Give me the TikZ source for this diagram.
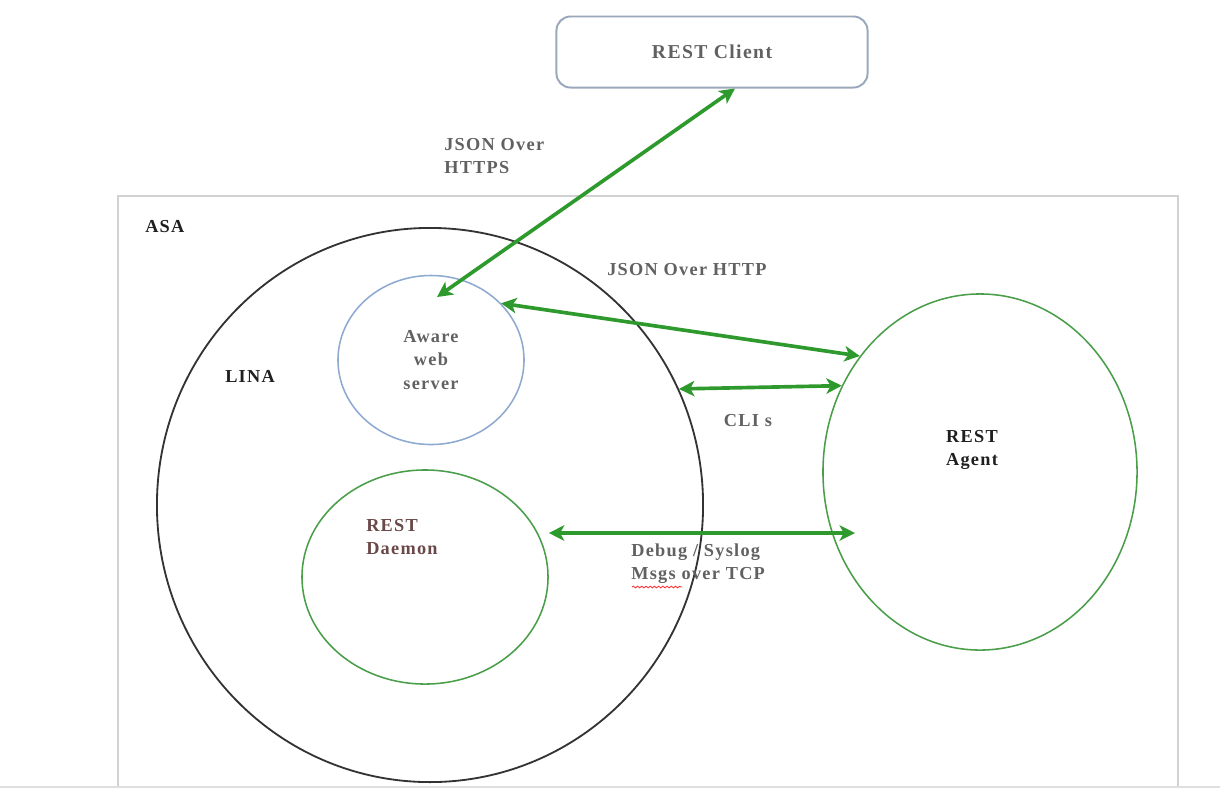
\documentclass[tikz,border=0pt]{standalone}
\usepackage{fontspec}
\setmainfont{Liberation Serif}
\newfontfamily\diagfont[LetterSpace=7]{Liberation Serif}
\usetikzlibrary{positioning, arrows.meta, shapes.geometric, decorations.pathmorphing}
\definecolor{linkgreen}{HTML}{2E9A2E}
\definecolor{zonegreen}{HTML}{4A9E4A}
\definecolor{webblue}{HTML}{8EAAD0}
\definecolor{clientgray}{HTML}{9AA8BC}
\definecolor{daemonred}{HTML}{6A4848}

\begin{document}
\begin{tikzpicture}[x=0.025cm, y=-0.025cm,
  txt/.style = {font=\diagfont\bfseries\fontsize{13}{16.5}\selectfont, text=black!62, align=left, inner sep=0pt},
  bold_txt/.style = {txt, text=black!88},
  zone/.style = {ellipse, draw, inner sep=0pt},
  block/.style = {rectangle, rounded corners=10pt, draw=clientgray, line width=1.4pt, align=center},
  link/.style = {draw=linkgreen, line width=2.6pt, {Stealth[length=11pt, width=11pt, inset=3pt]}-{Stealth[length=11pt, width=11pt, inset=3pt]}}]

  \useasboundingbox (0,0) rectangle (1220,792);

  % ASA frame
  \draw[gray!35, line width=1.4pt] (118,787) |- (1178,196) -- (1178,787);
  \draw[gray!25, line width=1.4pt] (0,787) -- (1220,787);

  \node[block, minimum width=7.775cm, minimum height=1.775cm,
        txt, align=center, font=\diagfont\bfseries\fontsize{14}{17}\selectfont] (client) at (712,52) {REST Client};

  \node[zone, draw=black!80, line width=1.3pt, minimum width=13.65cm, minimum height=13.85cm] (lina) at (430,505) {};
  \node[zone, draw=webblue, line width=1.1pt, minimum width=4.65cm, minimum height=4.225cm,
        txt, align=center] (aware) at (431,360) {Aware\\web\\server};
  \node[zone, draw=zonegreen, line width=1.1pt, minimum width=6.15cm, minimum height=5.35cm] (daemon) at (425,577) {};
  \node[zone, draw=zonegreen, line width=1.1pt, minimum width=7.85cm, minimum height=8.9cm] (agent) at (980,472) {};

  \node[bold_txt, anchor=west] (asa_lbl) at (145,227) {ASA};
  \node[bold_txt, anchor=west] (lina_lbl) at (225,376) {LINA};
  \node[txt, anchor=west, text=daemonred] (daemon_lbl) at (366,537) {REST\\Daemon};
  \node[bold_txt, align=center] (agent_lbl) at (972,450) {REST\\Agent};

  \coordinate (https_end) at (437,297);
  \coordinate (syslog_end) at (855,533);

  \draw[link] ([xshift=0.575cm]client.south) -- (https_end);
  \draw[link] (aware.39) -- (agent.136);
  \draw[link] (lina.25) -- (agent.148);
  \draw[link] (daemon.east |- syslog_end) -- (syslog_end);

  \node[txt, anchor=west] (https_lbl) at (444,156) {JSON Over\\HTTPS};
  \node[txt, anchor=west] (http_lbl) at (607,270) {JSON Over HTTP};
  \node[txt] (cli_lbl) at (748,421) {CLI s};
  \node[txt, anchor=west] (syslog_lbl) at (631,564) {Debug / Syslog\\Msgs over TCP};
  \draw[red!80, line width=0.6pt, decorate, decoration={snake, amplitude=0.6pt, segment length=3pt}]
    (632,587) -- (682,587);

\end{tikzpicture}
\end{document}
